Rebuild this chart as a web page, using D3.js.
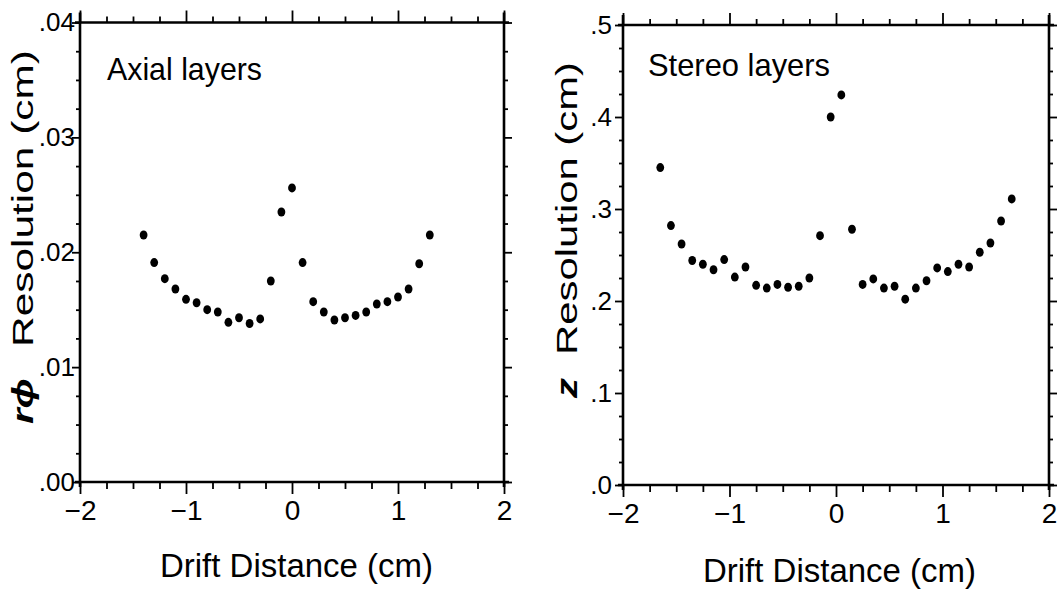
<!DOCTYPE html>
<html>
<head>
<meta charset="utf-8">
<script src="https://cdn.jsdelivr.net/npm/d3@7"></script>
<style>
  body { margin: 0; background: #fff; }
  text { font-family: "Liberation Sans", "DejaVu Sans", sans-serif; fill: #000; }
</style>
</head>
<body>
<svg id="chart" width="1059" height="589"></svg>
<script>
// Axial layers: r-phi resolution (cm) vs drift distance (cm)
const axialDrift = [-1.4, -1.3, -1.2, -1.1, -1.0, -0.9, -0.8, -0.7, -0.6, -0.5, -0.4, -0.3, -0.2, -0.1,
                    0.0, 0.1, 0.2, 0.3, 0.4, 0.5, 0.6, 0.7, 0.8, 0.9, 1.0, 1.1, 1.2, 1.3];
const axialRes = [.0215, .0191, .0177, .0168, .0159, .0156, .0150, .0148, .0139, .0143, .0138, .0142, .0175, .0235,
                  .0256, .0191, .0157, .0148, .0141, .0143, .0145, .0148, .0155, .0157, .0161, .0168, .0190, .0215];

// Stereo layers: z resolution (cm) vs drift distance (cm)
const stereoDrift = [-1.65, -1.55, -1.45, -1.35, -1.25, -1.15, -1.05, -0.95, -0.85, -0.75, -0.65, -0.55, -0.45, -0.35, -0.25, -0.15, -0.05,
                     0.05, 0.15, 0.25, 0.35, 0.45, 0.55, 0.65, 0.75, 0.85, 0.95, 1.05, 1.15, 1.25, 1.35, 1.45, 1.55, 1.65];
const stereoRes = [.345, .282, .262, .244, .240, .234, .245, .226, .237, .217, .214, .218, .215, .216, .225, .271, .400,
                   .424, .278, .218, .224, .214, .216, .202, .214, .222, .236, .232, .240, .237, .253, .263, .287, .311];

const xTicks = [-2, -1, 0, 1, 2];
const axialYTicks = [0, .01, .02, .03, .04];
const stereoYTicks = [0, .1, .2, .3, .4, .5];

const svg = d3.select("#chart");

function drawPanel(opt) {
  const x = d3.scaleLinear().domain([-2, 2]).range(opt.xRange);
  const y = d3.scaleLinear().domain(opt.yDomain).range(opt.yRange);
  const g = svg.append("g");

  const xMinor = d3.range(-2, 2.001, 0.25).filter(v => Math.abs(v - Math.round(v)) > 1e-6);
  const yMinor = d3.range(opt.yDomain[0], opt.yDomain[1] + 1e-9, opt.yMinorStep)
    .filter(v => !opt.yTicks.some(t => Math.abs(t - v) < 1e-9));

  const y0 = opt.yRange[0], y1 = opt.yRange[1];
  const x0 = opt.xRange[0], x1 = opt.xRange[1];

  const axes = [
    [d3.axisBottom(x).tickValues(xTicks).tickSize(12).tickPadding(6)
       .tickFormat(d => d < 0 ? "\u2212" + Math.abs(d) : d), "translate(0," + y0 + ")", 28],
    [d3.axisBottom(x).tickValues(xMinor).tickSize(7).tickFormat(""), "translate(0," + y0 + ")"],
    [d3.axisTop(x).tickValues(xTicks).tickSize(12).tickFormat(""), "translate(0," + y1 + ")"],
    [d3.axisTop(x).tickValues(xMinor).tickSize(6).tickFormat(""), "translate(0," + y1 + ")"],
    [d3.axisLeft(y).tickValues(opt.yTicks).tickSize(8).tickPadding(opt.yPad)
       .tickFormat(opt.yFormat), "translate(" + x0 + ",0)", 26],
    [d3.axisLeft(y).tickValues(yMinor).tickSize(4).tickFormat(""), "translate(" + x0 + ",0)"],
    [d3.axisRight(y).tickValues(opt.yTicks).tickSize(8).tickFormat(""), "translate(" + x1 + ",0)"],
    [d3.axisRight(y).tickValues(yMinor).tickSize(4).tickFormat(""), "translate(" + x1 + ",0)"]
  ];
  axes.forEach(([ax, tr, fs]) => {
    const a = g.append("g").attr("transform", tr).call(ax.tickSizeOuter(0));
    a.select(".domain").remove();
    a.selectAll(".tick line").attr("stroke", "#000").attr("stroke-width", 1.8);
    a.selectAll(".tick text").attr("font-size", fs || 26).attr("fill", "#000");
  });

  // frame, slightly overshooting like the original plot
  const ov = 5;
  const frame = [[x0 - ov, y0, x1 + ov, y0], [x0 - ov, y1, x1 + ov, y1],
                 [x0, y0 + ov, x0, y1 - ov * 2], [x1, y0 + ov, x1, y1 - ov * 2]];
  g.selectAll("line.frame").data(frame).enter().append("line")
    .attr("class", "frame")
    .attr("x1", d => d[0]).attr("y1", d => d[1]).attr("x2", d => d[2]).attr("y2", d => d[3])
    .attr("stroke", "#000").attr("stroke-width", 2.6);

  g.selectAll("ellipse").data(opt.xs).enter().append("ellipse")
    .attr("cx", d => x(d)).attr("cy", (d, i) => y(opt.ys[i]))
    .attr("rx", 3.9).attr("ry", 4.5).attr("fill", "#000");

  // panel label
  g.append("text").attr("x", opt.label.x).attr("y", opt.label.y)
    .attr("font-size", 32).attr("textLength", opt.label.w).attr("lengthAdjust", "spacingAndGlyphs")
    .text(opt.label.text);

  // x title
  g.append("text").attr("x", opt.xTitle.x).attr("y", opt.xTitle.y)
    .attr("font-size", 34).attr("textLength", 273).attr("lengthAdjust", "spacingAndGlyphs")
    .text("Drift Distance (cm)");

  // y title
  g.append("text").attr("transform", "translate(" + opt.yTitle.x + "," + opt.yTitle.start + ") rotate(-90)")
    .attr("font-size", 30).attr("textLength", opt.yTitle.len).attr("lengthAdjust", "spacingAndGlyphs")
    .text("Resolution  (cm)");
  g.append("text")
    .attr("transform", "translate(" + opt.yTitle.x + "," + opt.yTitle.symStart + ") rotate(-90)")
    .attr("font-size", 30).attr("font-style", "italic").attr("font-weight", "bold")
    .attr("font-family", "'DejaVu Serif', serif")
    .attr("textLength", opt.yTitle.symLen).attr("lengthAdjust", "spacingAndGlyphs")
    .text(opt.yTitle.sym);
}

drawPanel({
  xRange: [80, 504], yRange: [482, 22.5], yDomain: [0, .04], yTicks: axialYTicks, yMinorStep: .0025,
  yFormat: d => d3.format(".2f")(d).replace(/^0/, ""), yPad: -3,
  xs: axialDrift, ys: axialRes,
  label: { text: "Axial layers", x: 107, y: 80, w: 155 },
  xTitle: { x: 160, y: 577 },
  yTitle: { x: 33, start: 347, len: 297, symStart: 424, symLen: 46, sym: "r\u03D5" }
});

drawPanel({
  xRange: [623, 1049], yRange: [485, 25], yDomain: [0, .5], yTicks: stereoYTicks, yMinorStep: .025,
  yFormat: d => d3.format(".1f")(d).replace(/^0/, ""), yPad: 3,
  xs: stereoDrift, ys: stereoRes,
  label: { text: "Stereo layers", x: 648, y: 76, w: 182 },
  xTitle: { x: 703, y: 582 },
  yTitle: { x: 577, start: 355, len: 293, symStart: 398, symLen: 20, sym: "z" }
});
</script>
</body>
</html>
